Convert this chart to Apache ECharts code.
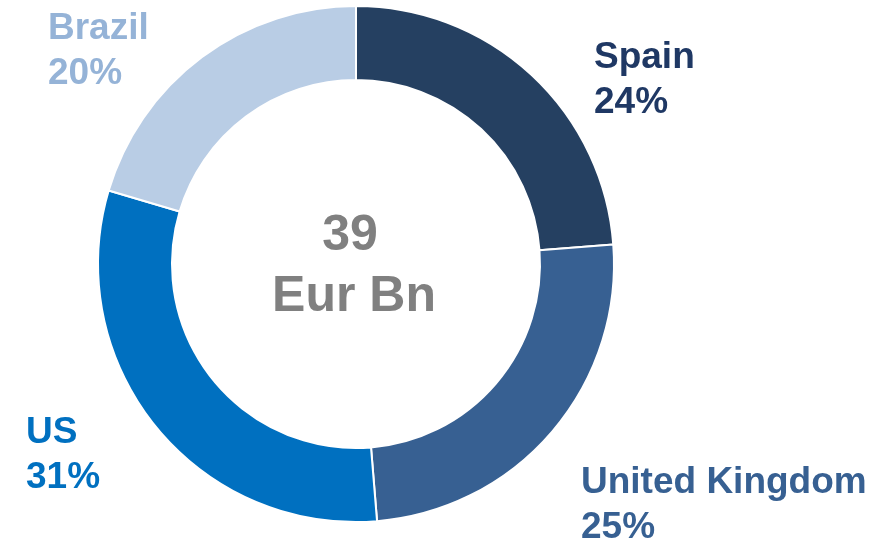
<!DOCTYPE html>
<html>
<head>
<meta charset="utf-8">
<script src="https://cdn.jsdelivr.net/npm/echarts@6/dist/echarts.min.js"></script>
<style>
  html, body { margin: 0; padding: 0; background: #fff; }
  #pieChart { width: 889px; height: 542px; }
</style>
</head>
<body>
<div id="pieChart"></div>
<script>
var countries = ["Spain", "United Kingdom", "US", "Brazil"];
var shares = [23.8, 24.9, 30.9, 20.4];
var sliceColors = ["#254061", "#376092", "#0070C0", "#B9CDE5"];
var labelColors = ["#1F3864", "#376092", "#0070C0", "#95B3D7"];
var totalValue = "39";
var totalUnit = "Eur Bn";

// where each outside label sits (top-left of its text block)
var labelSpots = [[594, 35], [581, 460], [26, 410], [48, 6]];

var chartDom = document.getElementById("pieChart");
var myChart = echarts.init(chartDom);
var option;

var centerFont = "bold 50px 'Liberation Sans', Arial, sans-serif";

option = {
  animation: false,
  textStyle: { fontFamily: "Liberation Sans, Arial, sans-serif" },
  graphic: [
    {
      type: "text",
      x: 350,
      y: 236,
      style: {
        text: totalValue,
        align: "center",
        verticalAlign: "middle",
        fill: "#808080",
        font: centerFont,
      },
    },
    {
      type: "text",
      x: 354,
      y: 297,
      style: {
        text: totalUnit,
        align: "center",
        verticalAlign: "middle",
        fill: "#808080",
        font: centerFont,
      },
    },
  ],
  series: [
    {
      type: "pie",
      center: [356, 264],
      radius: [184, 258],
      startAngle: 90,
      clockwise: true,
      avoidLabelOverlap: false,
      itemStyle: {
        borderColor: "#ffffff",
        borderWidth: 2,
      },
      label: {
        show: true,
        position: "outside",
        formatter: function (params) {
          return params.name + "\n" + Math.round(params.percent) + "%";
        },
        fontSize: 37,
        fontWeight: "bold",
        lineHeight: 45,
        fontFamily: "Liberation Sans, Arial, sans-serif",
      },
      labelLine: { show: false },
      labelLayout: function (params) {
        var p = labelSpots[params.dataIndex];
        return { x: p[0], y: p[1], align: "left", verticalAlign: "top" };
      },
      emphasis: { disabled: true },
      data: countries.map(function (name, i) {
        return {
          name: name,
          value: shares[i],
          itemStyle: { color: sliceColors[i] },
          label: { color: labelColors[i] },
        };
      }),
    },
  ],
};

option && myChart.setOption(option);
</script>
</body>
</html>
